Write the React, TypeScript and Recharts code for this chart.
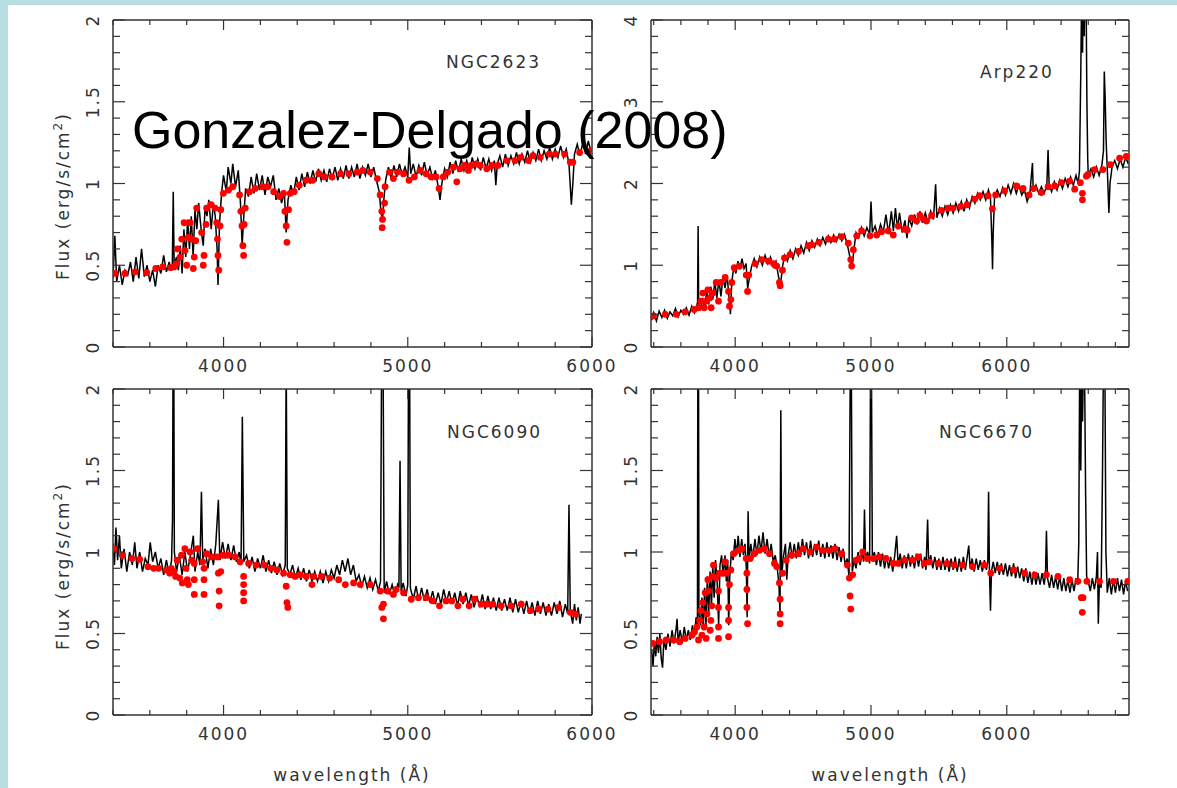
import React from 'react'
import { ComposedChart, Line, Scatter, XAxis, YAxis } from 'recharts'

type Pt = [number, number]

const ngc2623Obs: Pt[] = [
  [3400, 0.42], [3410, 0.68], [3420, 0.4], [3435, 0.5], [3450, 0.38], [3465, 0.47], [3480, 0.44], [3495, 0.52],
  [3510, 0.4], [3525, 0.55], [3540, 0.42], [3555, 0.6], [3570, 0.43], [3585, 0.5], [3600, 0.4], [3615, 0.47],
  [3630, 0.37], [3645, 0.5], [3660, 0.45], [3675, 0.56], [3690, 0.46], [3705, 0.52], [3715, 0.47], [3722, 0.5],
  [3727, 0.95], [3732, 0.5], [3745, 0.55], [3755, 0.47], [3765, 0.62], [3775, 0.45], [3785, 0.72], [3795, 0.55],
  [3805, 0.78], [3815, 0.6], [3825, 0.8], [3835, 0.55], [3845, 0.84], [3855, 0.72], [3865, 0.88], [3880, 0.7],
  [3890, 0.62], [3900, 0.86], [3910, 0.8], [3920, 0.9], [3933, 0.72], [3945, 0.88], [3955, 0.8], [3965, 0.6],
  [3970, 0.38], [3978, 0.75], [3990, 0.95], [4000, 1.05], [4015, 0.95], [4025, 1.1], [4040, 1.0], [4050, 1.12],
  [4065, 0.98], [4080, 1.08], [4092, 0.88], [4101, 0.62], [4110, 0.8], [4120, 0.97], [4135, 0.92], [4150, 1.04],
  [4165, 0.94], [4180, 1.06], [4195, 0.96], [4210, 1.05], [4225, 0.93], [4240, 1.04], [4255, 0.98], [4270, 1.05],
  [4285, 0.9], [4300, 0.97], [4315, 0.88], [4330, 0.95], [4340, 0.7], [4350, 0.9], [4365, 0.99], [4380, 0.93],
  [4395, 1.04], [4410, 0.96], [4425, 1.06], [4440, 0.98], [4455, 1.07], [4470, 1.0], [4485, 1.08], [4500, 1.01],
  [4515, 1.09], [4530, 1.02], [4545, 1.08], [4560, 1.01], [4575, 1.09], [4590, 1.03], [4605, 1.1], [4620, 1.02],
  [4635, 1.09], [4650, 1.03], [4665, 1.11], [4680, 1.03], [4695, 1.1], [4710, 1.04], [4725, 1.12], [4740, 1.03],
  [4755, 1.1], [4770, 1.05], [4785, 1.12], [4800, 1.04], [4815, 1.1], [4830, 1.02], [4845, 0.95], [4855, 0.82],
  [4863, 0.78], [4870, 0.9], [4880, 1.02], [4895, 1.1], [4910, 1.03], [4925, 1.11], [4940, 1.04], [4955, 1.12],
  [4970, 1.05], [4985, 1.1], [5000, 1.04], [5008, 1.22], [5016, 1.06], [5030, 1.12], [5045, 1.04], [5060, 1.11],
  [5075, 1.05], [5090, 1.13], [5105, 1.05], [5120, 1.1], [5135, 1.03], [5150, 1.08], [5165, 0.98], [5175, 0.9],
  [5185, 1.0], [5200, 1.09], [5215, 1.04], [5230, 1.13], [5245, 1.06], [5260, 1.14], [5275, 1.07], [5290, 1.15],
  [5305, 1.08], [5320, 1.14], [5335, 1.07], [5350, 1.16], [5365, 1.09], [5380, 1.15], [5395, 1.08], [5410, 1.16],
  [5425, 1.09], [5440, 1.15], [5455, 1.08], [5470, 1.14], [5478, 0.99], [5486, 1.12], [5500, 1.17], [5515, 1.1],
  [5530, 1.18], [5545, 1.11], [5560, 1.17], [5575, 1.12], [5590, 1.19], [5605, 1.12], [5620, 1.18], [5635, 1.13],
  [5650, 1.2], [5665, 1.13], [5680, 1.19], [5695, 1.14], [5710, 1.21], [5725, 1.14], [5740, 1.2], [5755, 1.15],
  [5770, 1.22], [5785, 1.15], [5800, 1.21], [5815, 1.16], [5830, 1.23], [5845, 1.16], [5860, 1.21], [5875, 1.12],
  [5888, 0.87], [5896, 1.0], [5905, 1.18], [5920, 1.24], [5935, 1.17], [5950, 1.25], [5965, 1.18], [5980, 1.26],
  [5995, 1.19],
]

// model fit points (red)
const ngc2623Fit: Pt[] = [
  [3411, 0.45], [3465, 0.45], [3520, 0.46], [3583, 0.455], [3632, 0.48], [3670, 0.49], [3713, 0.485], [3731, 0.49],
  [3746, 0.51], [3751, 0.6], [3764, 0.55], [3773, 0.66], [3786, 0.76], [3791, 0.59], [3800, 0.5], [3809, 0.67],
  [3818, 0.76], [3827, 0.66], [3836, 0.48], [3841, 0.55], [3849, 0.65], [3854, 0.85], [3881, 0.7], [3890, 0.5],
  [3894, 0.56], [3905, 0.75], [3908, 0.85], [3932, 0.87], [3954, 0.85], [3963, 0.76], [3967, 0.66], [3970, 0.56],
  [3974, 0.47], [3981, 0.74], [3985, 0.84], [3999, 0.94], [4027, 0.96], [4050, 0.98], [4087, 0.93], [4094, 0.83],
  [4100, 0.74], [4105, 0.62], [4109, 0.56], [4112, 0.75], [4118, 0.85], [4141, 0.95], [4172, 0.97], [4212, 0.98],
  [4239, 0.98], [4272, 0.95], [4304, 0.92], [4326, 0.94], [4333, 0.83], [4340, 0.74], [4344, 0.64], [4353, 0.84],
  [4362, 0.94], [4384, 0.95], [4411, 0.99], [4449, 1.02], [4484, 1.02], [4517, 1.06], [4548, 1.04], [4589, 1.04],
  [4635, 1.06], [4680, 1.06], [4725, 1.07], [4756, 1.08], [4796, 1.07], [4835, 1.03], [4850, 0.93], [4859, 0.83],
  [4863, 0.78], [4861, 0.73], [4874, 0.88], [4877, 0.98], [4901, 1.07], [4922, 1.03], [4944, 1.07], [4977, 1.06],
  [5007, 1.02], [5036, 1.04], [5067, 1.08], [5100, 1.06], [5127, 1.04], [5154, 1.04], [5170, 0.97], [5193, 1.04],
  [5217, 1.07], [5248, 1.1], [5266, 1.01], [5284, 1.09], [5308, 1.11], [5329, 1.08], [5344, 1.11], [5371, 1.12],
  [5393, 1.11], [5429, 1.09], [5456, 1.11], [5489, 1.11], [5538, 1.14], [5583, 1.14], [5614, 1.16], [5655, 1.14],
  [5679, 1.17], [5719, 1.16], [5768, 1.18], [5801, 1.18], [5851, 1.18], [5882, 1.13], [5896, 1.13], [5933, 1.19],
  [5990, 1.2],
]

const arp220Obs: Pt[] = [
  [3385, 0.33], [3400, 0.42], [3420, 0.32], [3440, 0.44], [3460, 0.36], [3480, 0.45], [3500, 0.35], [3520, 0.43],
  [3540, 0.38], [3560, 0.47], [3580, 0.37], [3600, 0.45], [3620, 0.4], [3640, 0.48], [3660, 0.39], [3680, 0.5],
  [3700, 0.42], [3715, 0.49], [3723, 0.55], [3727, 1.48], [3731, 0.55], [3745, 0.45], [3760, 0.6], [3775, 0.47],
  [3790, 0.68], [3805, 0.52], [3820, 0.74], [3835, 0.58], [3850, 0.8], [3865, 0.6], [3880, 0.82], [3895, 0.62],
  [3910, 0.86], [3925, 0.72], [3940, 0.88], [3955, 0.6], [3965, 0.4], [3975, 0.8], [3990, 0.98], [4005, 0.9],
  [4020, 1.05], [4035, 0.95], [4050, 1.08], [4065, 0.96], [4080, 1.02], [4092, 0.72], [4105, 0.85], [4120, 0.98],
  [4140, 1.08], [4160, 0.98], [4180, 1.1], [4200, 1.0], [4220, 1.12], [4240, 1.02], [4260, 1.1], [4280, 0.98],
  [4300, 1.05], [4320, 0.85], [4335, 0.78], [4350, 1.0], [4365, 1.12], [4385, 1.05], [4405, 1.18], [4425, 1.08],
  [4445, 1.2], [4465, 1.12], [4485, 1.24], [4505, 1.15], [4525, 1.28], [4545, 1.18], [4565, 1.3], [4585, 1.22],
  [4605, 1.32], [4625, 1.24], [4645, 1.34], [4665, 1.26], [4685, 1.36], [4705, 1.28], [4725, 1.37], [4745, 1.29],
  [4765, 1.38], [4785, 1.3], [4805, 1.38], [4825, 1.26], [4845, 1.1], [4860, 0.98], [4875, 1.2], [4890, 1.4],
  [4910, 1.34], [4930, 1.46], [4950, 1.36], [4970, 1.46], [4990, 1.38], [5000, 1.78], [5010, 1.4], [5030, 1.48],
  [5050, 1.36], [5070, 1.5], [5090, 1.4], [5110, 1.62], [5130, 1.38], [5150, 1.66], [5165, 1.42], [5180, 1.7],
  [5195, 1.44], [5210, 1.64], [5230, 1.4], [5250, 1.55], [5265, 1.33], [5280, 1.58], [5300, 1.48], [5320, 1.62],
  [5340, 1.5], [5360, 1.66], [5380, 1.52], [5400, 1.64], [5420, 1.52], [5440, 1.66], [5460, 1.56], [5476, 1.99],
  [5485, 1.58], [5505, 1.7], [5525, 1.6], [5545, 1.72], [5565, 1.62], [5585, 1.74], [5605, 1.64], [5625, 1.76],
  [5645, 1.66], [5665, 1.78], [5685, 1.66], [5705, 1.8], [5725, 1.7], [5745, 1.84], [5765, 1.76], [5785, 1.88],
  [5805, 1.8], [5825, 1.9], [5845, 1.8], [5865, 1.92], [5880, 1.82], [5890, 1.3], [5895, 0.95], [5900, 1.4],
  [5910, 1.84], [5930, 1.92], [5950, 1.84], [5970, 1.95], [5990, 1.86], [6010, 1.98], [6030, 1.88], [6050, 2.0],
  [6070, 1.88], [6090, 1.98], [6110, 1.86], [6130, 1.92], [6150, 1.78], [6170, 1.88], [6189, 2.25], [6195, 1.9],
  [6215, 1.98], [6235, 1.88], [6255, 1.96], [6275, 1.88], [6295, 1.98], [6304, 2.41], [6312, 1.98], [6330, 1.9],
  [6350, 2.02], [6370, 1.92], [6390, 2.04], [6410, 1.94], [6430, 2.06], [6450, 1.96], [6470, 2.08], [6490, 1.98],
  [6510, 2.1], [6525, 2.0], [6535, 2.15], [6545, 3.36], [6552, 4.5], [6558, 3.6], [6563, 4.5], [6570, 3.8],
  [6576, 4.5], [6583, 4.5], [6590, 3.0], [6596, 2.3], [6600, 2.1], [6620, 2.18], [6640, 2.08], [6660, 2.2],
  [6680, 2.1], [6700, 2.22], [6712, 2.4], [6718, 3.37], [6724, 3.07], [6732, 2.5], [6742, 2.1], [6752, 1.64],
  [6760, 2.0], [6775, 2.2], [6795, 2.28], [6815, 2.18], [6835, 2.3], [6855, 2.2], [6875, 2.32], [6895, 2.24],
]

const arp220Fit: Pt[] = [
  [3399, 0.38], [3485, 0.4], [3566, 0.4], [3632, 0.43], [3698, 0.46], [3730, 0.48], [3747, 0.56], [3762, 0.66],
  [3772, 0.48], [3786, 0.56], [3799, 0.7], [3811, 0.6], [3823, 0.48], [3835, 0.66], [3860, 0.79], [3877, 0.56],
  [3894, 0.79], [3926, 0.85], [3951, 0.68], [3958, 0.5], [3968, 0.58], [3975, 0.79], [3993, 0.97], [4032, 0.99],
  [4081, 0.88], [4091, 0.68], [4100, 0.88], [4147, 1.02], [4196, 1.07], [4245, 1.05], [4282, 1.02], [4306, 0.99],
  [4326, 0.79], [4331, 0.75], [4348, 0.94], [4363, 1.09], [4404, 1.13], [4466, 1.17], [4539, 1.24], [4564, 1.25],
  [4618, 1.28], [4686, 1.32], [4730, 1.32], [4784, 1.35], [4833, 1.27], [4851, 1.07], [4858, 0.99], [4870, 1.19],
  [4895, 1.36], [4931, 1.42], [4993, 1.36], [5042, 1.37], [5078, 1.41], [5127, 1.42], [5164, 1.37], [5201, 1.48],
  [5250, 1.44], [5267, 1.43], [5299, 1.58], [5336, 1.54], [5360, 1.61], [5385, 1.57], [5409, 1.54], [5446, 1.61],
  [5519, 1.67], [5568, 1.7], [5605, 1.7], [5661, 1.72], [5708, 1.74], [5764, 1.81], [5801, 1.85], [5862, 1.85],
  [5894, 1.69], [5918, 1.86], [5984, 1.91], [6070, 1.97], [6120, 1.94], [6164, 1.86], [6198, 1.94], [6255, 1.89],
  [6304, 1.96], [6353, 1.97], [6402, 2.01], [6463, 2.03], [6500, 1.93], [6542, 2.01], [6557, 1.88], [6557, 1.8],
  [6586, 2.09], [6598, 2.11], [6647, 2.17], [6708, 2.17], [6762, 2.23], [6831, 2.31], [6880, 2.33],
]

const ngc6090Obs: Pt[] = [
  [3400, 1.05], [3408, 0.92], [3416, 1.15], [3425, 0.95], [3435, 1.1], [3445, 0.9], [3460, 1.02], [3475, 0.88],
  [3490, 1.0], [3505, 0.92], [3518, 1.06], [3530, 0.9], [3545, 1.0], [3560, 0.88], [3575, 0.96], [3590, 0.92],
  [3602, 1.06], [3615, 0.94], [3630, 1.0], [3645, 0.9], [3660, 0.96], [3675, 0.86], [3690, 0.95], [3705, 0.86],
  [3718, 0.95], [3723, 1.2], [3726, 2.2], [3730, 2.2], [3733, 1.0], [3745, 0.88], [3760, 0.98], [3775, 0.86],
  [3790, 1.0], [3805, 0.88], [3820, 0.98], [3836, 1.1], [3845, 0.88], [3860, 1.0], [3872, 0.92], [3880, 1.37],
  [3887, 0.95], [3900, 1.02], [3915, 0.9], [3930, 1.02], [3945, 0.92], [3958, 1.05], [3972, 1.32], [3980, 0.95],
  [3995, 1.06], [4010, 0.96], [4025, 1.05], [4040, 0.95], [4055, 1.04], [4070, 0.94], [4085, 1.0], [4095, 0.92],
  [4102, 1.83], [4110, 0.94], [4125, 0.98], [4140, 0.9], [4155, 0.97], [4170, 0.88], [4185, 0.96], [4200, 0.9],
  [4215, 0.98], [4230, 0.88], [4245, 0.95], [4260, 0.87], [4275, 0.94], [4290, 0.86], [4305, 0.93], [4320, 0.86],
  [4335, 0.92], [4340, 2.2], [4346, 0.9], [4360, 0.86], [4375, 0.92], [4390, 0.84], [4405, 0.9], [4420, 0.83],
  [4435, 0.9], [4450, 0.82], [4465, 0.89], [4480, 0.82], [4495, 0.88], [4510, 0.82], [4525, 0.88], [4540, 0.81],
  [4555, 0.88], [4570, 0.82], [4585, 0.89], [4600, 0.84], [4615, 0.92], [4630, 0.86], [4645, 0.95], [4660, 0.88],
  [4675, 0.96], [4690, 0.86], [4705, 0.92], [4720, 0.82], [4735, 0.86], [4750, 0.79], [4765, 0.85], [4780, 0.78],
  [4795, 0.84], [4810, 0.77], [4825, 0.83], [4840, 0.76], [4852, 0.82], [4858, 2.2], [4866, 2.2], [4872, 0.75],
  [4885, 0.82], [4900, 0.74], [4915, 0.8], [4930, 0.73], [4945, 0.8], [4952, 0.78], [4958, 1.56], [4964, 0.76],
  [4975, 0.81], [4990, 0.73], [5000, 0.8], [5004, 2.2], [5010, 2.2], [5014, 0.78], [5030, 0.71], [5045, 0.79],
  [5060, 0.7], [5075, 0.78], [5090, 0.7], [5105, 0.77], [5120, 0.69], [5135, 0.76], [5150, 0.68], [5165, 0.75],
  [5180, 0.68], [5195, 0.77], [5210, 0.69], [5225, 0.76], [5240, 0.68], [5255, 0.75], [5270, 0.67], [5285, 0.76],
  [5300, 0.68], [5315, 0.75], [5330, 0.67], [5345, 0.74], [5360, 0.66], [5375, 0.73], [5390, 0.66], [5405, 0.74],
  [5420, 0.65], [5435, 0.73], [5450, 0.65], [5465, 0.72], [5480, 0.64], [5495, 0.72], [5510, 0.64], [5525, 0.71],
  [5540, 0.64], [5555, 0.72], [5570, 0.63], [5585, 0.71], [5600, 0.63], [5615, 0.7], [5630, 0.62], [5645, 0.7],
  [5660, 0.62], [5675, 0.69], [5690, 0.61], [5705, 0.7], [5720, 0.62], [5735, 0.69], [5750, 0.61], [5765, 0.68],
  [5780, 0.61], [5795, 0.69], [5810, 0.62], [5825, 0.7], [5840, 0.6], [5855, 0.68], [5868, 0.62], [5875, 1.29],
  [5882, 0.64], [5895, 0.56], [5905, 0.68], [5915, 0.58], [5925, 0.66], [5935, 0.56], [5942, 0.62],
]

const ngc6090Fit: Pt[] = [
  [3404, 1.02], [3451, 0.98], [3503, 0.96], [3545, 0.955], [3590, 0.91], [3621, 0.9], [3648, 0.9], [3690, 0.89],
  [3708, 0.87], [3717, 0.9], [3730, 0.88], [3740, 0.85], [3748, 0.95], [3762, 0.84], [3772, 0.98], [3776, 0.81],
  [3790, 1.02], [3796, 0.9], [3803, 0.83], [3809, 0.8], [3818, 1.0], [3827, 0.95], [3841, 0.93], [3841, 0.83],
  [3841, 0.74], [3859, 1.02], [3887, 0.94], [3894, 0.9], [3894, 0.83], [3894, 0.74], [3908, 0.99], [3936, 0.97],
  [3967, 0.97], [3972, 0.87], [3976, 0.76], [3976, 0.67], [3985, 0.88], [3996, 0.98], [4027, 0.98], [4063, 0.97],
  [4090, 0.94], [4109, 0.85], [4109, 0.8], [4109, 0.75], [4109, 0.7], [4136, 0.93], [4177, 0.92], [4221, 0.92],
  [4257, 0.9], [4290, 0.89], [4326, 0.87], [4340, 0.79], [4344, 0.69], [4349, 0.66], [4362, 0.86], [4389, 0.85],
  [4416, 0.86], [4449, 0.85], [4480, 0.8], [4489, 0.85], [4531, 0.85], [4576, 0.84], [4625, 0.83], [4661, 0.8],
  [4706, 0.81], [4742, 0.8], [4796, 0.8], [4850, 0.76], [4859, 0.66], [4868, 0.68], [4868, 0.59], [4890, 0.76],
  [4922, 0.74], [4937, 0.77], [4977, 0.75], [5019, 0.71], [5058, 0.72], [5100, 0.72], [5136, 0.7], [5172, 0.67],
  [5208, 0.7], [5239, 0.7], [5272, 0.67], [5299, 0.71], [5333, 0.67], [5362, 0.71], [5399, 0.68], [5429, 0.68],
  [5462, 0.68], [5507, 0.67], [5561, 0.67], [5616, 0.68], [5665, 0.64], [5710, 0.65], [5761, 0.65], [5819, 0.66],
  [5882, 0.63], [5909, 0.62],
]

const ngc6670Obs: Pt[] = [
  [3385, 0.4], [3395, 0.3], [3405, 0.45], [3415, 0.36], [3425, 0.48], [3435, 0.38], [3445, 0.5], [3455, 0.35],
  [3465, 0.29], [3475, 0.46], [3490, 0.4], [3505, 0.5], [3520, 0.42], [3535, 0.52], [3550, 0.44], [3565, 0.53],
  [3572, 0.59], [3580, 0.45], [3595, 0.52], [3610, 0.44], [3625, 0.54], [3640, 0.46], [3655, 0.52], [3670, 0.46],
  [3685, 0.55], [3700, 0.48], [3712, 0.6], [3722, 0.52], [3725, 2.2], [3730, 2.2], [3733, 0.62], [3745, 0.55],
  [3755, 0.72], [3765, 0.52], [3775, 0.78], [3785, 0.55], [3795, 0.85], [3805, 0.62], [3815, 0.88], [3825, 0.66],
  [3835, 0.92], [3845, 0.72], [3855, 0.95], [3868, 0.8], [3878, 0.55], [3888, 0.92], [3900, 0.98], [3912, 0.85],
  [3925, 0.98], [3935, 0.82], [3945, 0.95], [3952, 0.55], [3960, 0.85], [3972, 1.0], [3985, 0.95], [3998, 1.08],
  [4010, 0.98], [4022, 1.1], [4035, 0.97], [4048, 1.08], [4060, 0.98], [4072, 1.05], [4082, 0.9], [4088, 0.6],
  [4095, 1.25], [4102, 0.95], [4115, 1.05], [4130, 0.96], [4145, 1.08], [4160, 0.98], [4175, 1.1], [4190, 1.0],
  [4205, 1.12], [4220, 0.99], [4235, 1.08], [4250, 0.97], [4265, 1.05], [4280, 0.94], [4295, 0.98], [4310, 0.9],
  [4322, 0.8], [4330, 0.62], [4336, 1.87], [4342, 0.85], [4355, 0.97], [4370, 1.05], [4380, 0.83], [4390, 0.98],
  [4405, 1.06], [4420, 0.96], [4435, 1.05], [4450, 0.96], [4465, 1.06], [4480, 0.97], [4495, 1.08], [4510, 0.98],
  [4525, 1.06], [4540, 0.96], [4555, 1.07], [4570, 0.97], [4585, 1.05], [4600, 0.98], [4615, 1.07], [4630, 0.97],
  [4645, 1.05], [4660, 0.96], [4675, 1.06], [4690, 0.97], [4705, 1.04], [4720, 0.96], [4735, 1.05], [4750, 0.95],
  [4765, 1.03], [4780, 0.94], [4795, 1.02], [4810, 0.92], [4825, 0.96], [4838, 0.85], [4848, 2.2], [4855, 2.2],
  [4862, 0.88], [4875, 0.95], [4890, 0.9], [4905, 1.0], [4920, 0.92], [4935, 1.01], [4945, 0.94], [4952, 1.26],
  [4960, 0.95], [4975, 1.0], [4990, 0.93], [4997, 2.2], [5003, 2.2], [5010, 0.95], [5025, 1.0], [5040, 0.92],
  [5055, 1.0], [5070, 0.91], [5085, 0.99], [5100, 0.9], [5115, 0.98], [5130, 0.9], [5145, 0.97], [5160, 0.88],
  [5175, 0.98], [5189, 1.1], [5200, 0.92], [5215, 0.99], [5230, 0.9], [5245, 0.98], [5260, 0.9], [5275, 0.99],
  [5290, 0.91], [5305, 0.98], [5320, 0.9], [5335, 0.99], [5350, 0.91], [5365, 0.99], [5380, 0.9], [5395, 0.97],
  [5405, 0.89], [5417, 1.2], [5425, 0.92], [5440, 0.98], [5455, 0.9], [5470, 0.97], [5485, 0.89], [5500, 0.96],
  [5515, 0.89], [5530, 0.97], [5545, 0.89], [5560, 0.96], [5575, 0.88], [5590, 0.96], [5605, 0.89], [5620, 0.97],
  [5635, 0.88], [5650, 0.96], [5665, 0.88], [5680, 0.97], [5695, 0.89], [5710, 0.98], [5720, 1.04], [5730, 0.9],
  [5745, 0.96], [5760, 0.88], [5775, 0.96], [5790, 0.89], [5805, 0.95], [5820, 0.88], [5835, 0.95], [5850, 0.89],
  [5860, 0.94], [5866, 1.37], [5872, 0.9], [5880, 0.64], [5887, 0.88], [5900, 0.94], [5915, 0.87], [5930, 0.94],
  [5945, 0.86], [5960, 0.93], [5975, 0.86], [5990, 0.93], [6005, 0.85], [6020, 0.92], [6035, 0.85], [6050, 0.93],
  [6065, 0.84], [6080, 0.91], [6095, 0.84], [6110, 0.9], [6125, 0.82], [6140, 0.9], [6155, 0.81], [6170, 0.88],
  [6185, 0.8], [6200, 0.88], [6215, 0.8], [6230, 0.87], [6245, 0.8], [6260, 0.87], [6275, 0.8], [6285, 0.86],
  [6292, 1.13], [6300, 0.84], [6315, 0.78], [6330, 0.86], [6345, 0.78], [6360, 0.85], [6375, 0.77], [6390, 0.85],
  [6405, 0.76], [6420, 0.84], [6435, 0.76], [6450, 0.83], [6465, 0.75], [6480, 0.83], [6495, 0.76], [6510, 0.84],
  [6522, 0.8], [6530, 1.05], [6537, 2.2], [6545, 1.5], [6552, 2.2], [6558, 1.8], [6565, 2.2], [6572, 2.2],
  [6580, 1.4], [6588, 0.85], [6600, 0.82], [6615, 0.76], [6630, 0.84], [6645, 0.77], [6660, 0.85], [6668, 1.0],
  [6674, 0.56], [6682, 0.82], [6695, 0.78], [6705, 1.5], [6712, 2.2], [6722, 2.2], [6730, 1.0], [6740, 0.75],
  [6755, 0.84], [6770, 0.74], [6785, 0.83], [6800, 0.75], [6815, 0.84], [6830, 0.76], [6845, 0.83], [6860, 0.74],
  [6875, 0.82], [6890, 0.76],
]

const ngc6670Fit: Pt[] = [
  [3394, 0.44], [3443, 0.45], [3492, 0.46], [3547, 0.46], [3591, 0.45], [3632, 0.47], [3681, 0.49], [3701, 0.51],
  [3718, 0.54], [3730, 0.46], [3738, 0.58], [3747, 0.64], [3755, 0.49], [3762, 0.69], [3772, 0.54], [3779, 0.75],
  [3786, 0.47], [3792, 0.62], [3799, 0.83], [3804, 0.76], [3816, 0.52], [3821, 0.58], [3828, 0.67], [3835, 0.85],
  [3840, 0.92], [3860, 0.84], [3877, 0.54], [3877, 0.47], [3877, 0.66], [3877, 0.76], [3884, 0.87], [3902, 0.87],
  [3926, 0.94], [3933, 0.87], [3951, 0.48], [3951, 0.58], [3951, 0.66], [3958, 0.8], [3968, 0.89], [3988, 0.99],
  [4025, 1.01], [4049, 1.02], [4081, 0.96], [4086, 0.87], [4086, 0.77], [4086, 0.66], [4091, 0.56], [4110, 0.96],
  [4140, 0.99], [4179, 1.01], [4213, 1.02], [4252, 0.99], [4289, 0.93], [4306, 0.91], [4326, 0.81], [4331, 0.71],
  [4331, 0.62], [4331, 0.56], [4350, 0.87], [4375, 0.95], [4416, 0.98], [4466, 0.99], [4502, 1.02], [4551, 1.0],
  [4600, 1.03], [4645, 1.01], [4694, 1.01], [4735, 1.02], [4784, 0.99], [4826, 0.92], [4841, 0.84], [4846, 0.73],
  [4851, 0.65], [4865, 0.86], [4890, 0.95], [4914, 0.96], [4939, 1.0], [4973, 0.96], [5017, 0.96], [5061, 0.97],
  [5110, 0.96], [5164, 0.93], [5201, 0.93], [5250, 0.95], [5306, 0.95], [5348, 0.97], [5392, 0.93], [5429, 0.94],
  [5495, 0.93], [5561, 0.93], [5613, 0.92], [5674, 0.92], [5748, 0.91], [5833, 0.92], [5882, 0.87], [5948, 0.9],
  [6051, 0.89], [6132, 0.87], [6206, 0.86], [6292, 0.86], [6377, 0.85], [6463, 0.83], [6524, 0.82], [6549, 0.72],
  [6561, 0.72], [6556, 0.63], [6590, 0.82], [6683, 0.82], [6786, 0.82], [6891, 0.82],
]

// axis ticks
const xMajor = [4000, 5000, 6000]
const xMinorShort = [3400, 3600, 3800, 4200, 4400, 4600, 4800, 5200, 5400, 5600, 5800]
const xMinorLong = [3400, 3600, 3800, 4200, 4400, 4600, 4800, 5200, 5400, 5600, 5800, 6200, 6400, 6600, 6800]
const yMajor2 = [0, 0.5, 1, 1.5, 2]
const yMinor2 = [0.1, 0.2, 0.3, 0.4, 0.6, 0.7, 0.8, 0.9, 1.1, 1.2, 1.3, 1.4, 1.6, 1.7, 1.8, 1.9]
const yMajor4 = [0, 1, 2, 3, 4]
const yMinor4 = [0.2, 0.4, 0.6, 0.8, 1.2, 1.4, 1.6, 1.8, 2.2, 2.4, 2.6, 2.8, 3.2, 3.4, 3.6, 3.8]

const FONT = '"DejaVu Sans", sans-serif'
const INK = '#333'

const rows = (pts: Pt[]) => pts.map(([w, f]) => ({ w, f }))
const merge = (a: number[], b: number[]) => [...a, ...b].sort((p, q) => p - q)

type Side = 'bottom' | 'top' | 'left' | 'right'

// tick marks point into the plot; only bottom and left carry labels
const tickMark = (side: Side, major: number[], short: number, long: number) => (p: any) => {
  const v = p.payload.value
  const isMajor = major.includes(v)
  const len = isMajor ? long : short
  const dx = side === 'left' ? len : side === 'right' ? -len : 0
  const dy = side === 'bottom' ? -len : side === 'top' ? len : 0
  return (
    <g>
      <line x1={p.x} y1={p.y} x2={p.x + dx} y2={p.y + dy} stroke={INK} strokeWidth={1.2} />
      {isMajor && side === 'bottom' && (
        <text x={p.x} y={p.y + 25} textAnchor="middle" fontFamily={FONT} fontSize={17} letterSpacing={2} fill={INK}>
          {v}
        </text>
      )}
      {isMajor && side === 'left' && (
        <text
          x={p.x - 14}
          y={p.y}
          transform={`rotate(-90 ${p.x - 14} ${p.y})`}
          textAnchor="middle"
          fontFamily={FONT}
          fontSize={17}
          letterSpacing={2}
          fill={INK}
        >
          {v}
        </text>
      )}
    </g>
  )
}

const RedDot = (p: any) => <circle cx={p.cx} cy={p.cy} r={3.4} fill="#ff0000" />

type PanelProps = {
  obs: Pt[]
  fit: Pt[]
  xDomain: [number, number]
  xMinor: number[]
  yDomain: [number, number]
  yMajor: number[]
  yMinor: number[]
  width: number
  height: number
  margin: { top: number; right: number; bottom: number; left: number }
}

function Panel({ obs, fit, xDomain, xMinor, yDomain, yMajor, yMinor, width, height, margin }: PanelProps) {
  const frame = { stroke: INK, strokeWidth: 1.5 }
  const xTicks = merge(xMajor, xMinor)
  const yTicks = merge(yMajor, yMinor)
  const xc = { type: 'number' as const, dataKey: 'w', domain: xDomain, allowDataOverflow: true, interval: 0 as const, ticks: xTicks, height: 1, tickSize: 0, tickMargin: 0, tickLine: false, axisLine: frame }
  const yc = { type: 'number' as const, dataKey: 'f', domain: yDomain, allowDataOverflow: true, interval: 0 as const, ticks: yTicks, width: 1, tickSize: 0, tickMargin: 0, tickLine: false, axisLine: frame }
  return (
    <ComposedChart width={width} height={height} margin={margin}>
      <XAxis xAxisId="b" {...xc} tick={tickMark('bottom', xMajor, 5, 10)} />
      <XAxis xAxisId="t" orientation="top" {...xc} tick={tickMark('top', xMajor, 5, 10)} />
      <YAxis yAxisId="l" {...yc} tick={tickMark('left', yMajor, 7, 12)} />
      <YAxis yAxisId="r" orientation="right" {...yc} tick={tickMark('right', yMajor, 7, 12)} />
      <Line
        xAxisId="b"
        yAxisId="l"
        data={rows(obs)}
        dataKey="f"
        type="linear"
        stroke="#000"
        strokeWidth={1.5}
        dot={false}
        activeDot={false}
        isAnimationActive={false}
      />
      <Scatter xAxisId="b" yAxisId="l" data={rows(fit)} shape={RedDot} isAnimationActive={false} />
    </ComposedChart>
  )
}

const labelStyle = { fontFamily: FONT, fontSize: 17, letterSpacing: 2, fill: INK } as const

function FluxLabel({ x, y }: { x: number; y: number }) {
  return (
    <text x={x} y={y} transform={`rotate(-90 ${x} ${y})`} textAnchor="middle" {...labelStyle}>
      Flux (erg/s/cm
      <tspan dy={-7} fontSize={12}>2</tspan>
      <tspan dy={7}>)</tspan>
    </text>
  )
}

export default function App() {
  const leftMargin = { top: 19, right: 37, bottom: 42, left: 112 }
  const rightMargin = { top: 19, right: 47, bottom: 42, left: 50 }
  const lowMargin = (m: typeof leftMargin) => ({ ...m, top: 18, bottom: 64 })
  return (
    <div style={{ position: 'fixed', left: 0, top: 0, width: 1177, height: 788, background: '#b9dee2', overflow: 'hidden' }}>
      <div style={{ position: 'absolute', left: 8, top: 5, width: 1169, height: 783, background: '#fff' }} />
      <div style={{ position: 'absolute', left: 0, top: 0 }}>
        <Panel obs={ngc2623Obs} fit={ngc2623Fit} xDomain={[3400, 6000]} xMinor={xMinorShort} yDomain={[0, 2]} yMajor={yMajor2} yMinor={yMinor2} width={630} height={390} margin={leftMargin} />
      </div>
      <div style={{ position: 'absolute', left: 600, top: 0 }}>
        <Panel obs={arp220Obs} fit={arp220Fit} xDomain={[3380, 6900]} xMinor={xMinorLong} yDomain={[0, 4]} yMajor={yMajor4} yMinor={yMinor4} width={577} height={390} margin={rightMargin} />
      </div>
      <div style={{ position: 'absolute', left: 0, top: 370 }}>
        <Panel obs={ngc6090Obs} fit={ngc6090Fit} xDomain={[3400, 6000]} xMinor={xMinorShort} yDomain={[0, 2]} yMajor={yMajor2} yMinor={yMinor2} width={630} height={410} margin={lowMargin(leftMargin)} />
      </div>
      <div style={{ position: 'absolute', left: 600, top: 370 }}>
        <Panel obs={ngc6670Obs} fit={ngc6670Fit} xDomain={[3380, 6900]} xMinor={xMinorLong} yDomain={[0, 2]} yMajor={yMajor2} yMinor={yMinor2} width={577} height={410} margin={lowMargin(rightMargin)} />
      </div>
      <svg width={1177} height={788} style={{ position: 'absolute', left: 0, top: 0, pointerEvents: 'none' }}>
        <text x={446} y={68} {...labelStyle}>NGC2623</text>
        <text x={980} y={78} {...labelStyle}>Arp220</text>
        <text x={447} y={438} {...labelStyle}>NGC6090</text>
        <text x={939} y={438} {...labelStyle}>NGC6670</text>
        <FluxLabel x={69} y={196} />
        <FluxLabel x={69} y={566} />
        <text x={352} y={781} textAnchor="middle" {...labelStyle}>wavelength (Å)</text>
        <text x={890} y={781} textAnchor="middle" {...labelStyle}>wavelength (Å)</text>
        <text x={132} y={148} fontFamily='"Liberation Sans", Arial, sans-serif' fontSize={52} fill="#000">
          Gonzalez-Delgado (2008)
        </text>
      </svg>
    </div>
  )
}
